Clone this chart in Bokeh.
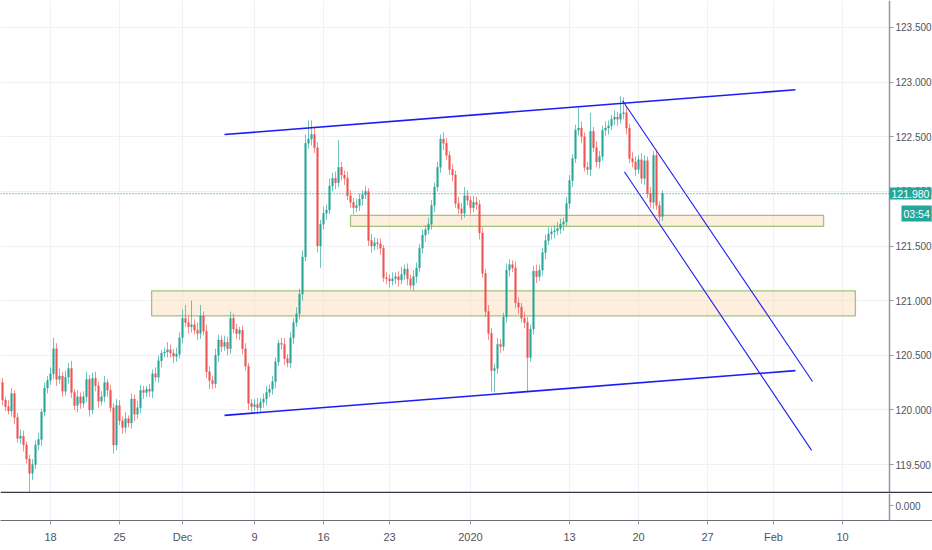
from bokeh.plotting import figure
from bokeh.layouts import column
from bokeh.models import (Range1d, FixedTicker, Span, Label, Grid, LinearAxis,
                          NumeralTickFormatter, ColumnDataSource)
from bokeh.embed import file_html
from bokeh.resources import INLINE

# ---------------- data ----------------
FIRST_OPEN = 120.25
CLOSE = [
    120.09, 120.03, 119.99, 120.15, 119.93, 119.74, 119.76, 119.68, 119.55, 119.42,
    119.50, 119.68, 119.73, 119.98, 120.20, 120.27, 120.33, 120.56, 120.28, 120.31,
    120.17, 120.30, 120.38, 120.16, 120.04, 120.12, 120.06, 120.12, 120.28, 120.00,
    120.29, 120.22, 120.08, 120.12, 120.25, 120.18, 120.02, 119.68, 120.04, 119.90,
    119.84, 119.92, 119.88, 120.10, 119.96, 120.02, 120.18, 120.16, 120.19, 120.17,
    120.33, 120.30, 120.45, 120.52, 120.53, 120.55, 120.52, 120.49, 120.51, 120.66,
    120.84, 120.80, 120.76, 120.78, 120.73, 120.70, 120.86, 120.72, 120.35, 120.27,
    120.24, 120.50, 120.64, 120.58, 120.62, 120.56, 120.84, 120.74, 120.70, 120.73,
    120.56, 120.40, 120.06, 120.03, 120.05, 120.02, 120.07, 120.10, 120.16, 120.19,
    120.26, 120.44, 120.61, 120.60, 120.47, 120.43, 120.66, 120.80, 120.88, 121.06,
    121.40, 122.44, 122.48, 122.52, 122.40, 121.50, 121.70, 121.80, 121.83, 122.05,
    122.12, 122.08, 122.22, 122.15, 122.12, 121.96, 121.90, 121.85, 121.87, 121.93,
    121.97, 122.00, 121.55, 121.50, 121.53, 121.52, 121.48, 121.21, 121.20, 121.18,
    121.20, 121.22, 121.19, 121.24, 121.29, 121.20, 121.14, 121.22, 121.30, 121.48,
    121.60, 121.65, 121.70, 121.87, 122.04, 122.22, 122.48, 122.44, 122.33, 122.20,
    122.15, 121.89, 121.84, 121.80, 121.96, 121.92, 121.85, 121.90, 121.88, 121.62,
    121.25, 120.90, 120.70, 120.36, 120.38, 120.60, 120.58, 120.85, 121.28, 121.33,
    121.30, 120.98, 120.94, 120.84, 120.80, 120.48, 120.74, 121.27, 121.22, 121.28,
    121.44, 121.55, 121.61, 121.63, 121.64, 121.66, 121.70, 121.72, 121.89, 122.10,
    122.30, 122.56, 122.58, 122.50, 122.22, 122.20, 122.55, 122.40, 122.27, 122.32,
    122.56, 122.58, 122.60, 122.66, 122.68, 122.66, 122.71, 122.72, 122.58, 122.30,
    122.27, 122.20, 122.29, 122.12, 122.28, 121.98, 121.90, 122.33, 121.87, 121.77,
    121.98,
]
# wick lengths in pips (0.01)
WICK_UP = [
    4, 3, 6, 5, 3, 4, 6, 5, 3, 4,
    5, 4, 6, 3, 5, 4, 6, 10, 5, 7,
    4, 6, 5, 7, 3, 6, 4, 5, 7, 4,
    5, 6, 4, 5, 6, 3, 5, 4, 6, 5,
    4, 6, 3, 5, 4, 6, 5, 4, 3, 5,
    4, 6, 5, 3, 4, 7, 5, 4, 6, 5,
    8, 12, 6, 22, 5, 7, 10, 4, 6, 5,
    4, 6, 5, 4, 6, 5, 6, 4, 5, 3,
    4, 5, 3, 4, 5, 6, 4, 5, 6, 4,
    5, 4, 3, 5, 6, 4, 5, 4, 6, 5,
    6, 8, 17, 13, 6, 5, 4, 6, 5, 7,
    5, 6, 25, 5, 4, 6, 5, 4, 6, 5,
    4, 5, 3, 6, 5, 4, 5, 3, 5, 4,
    6, 4, 5, 7, 4, 5, 4, 6, 5, 4,
    5, 4, 6, 5, 4, 5, 4, 6, 5, 4,
    5, 4, 6, 5, 8, 5, 4, 6, 5, 4,
    5, 4, 6, 5, 4, 6, 5, 4, 6, 5,
    4, 6, 5, 4, 6, 5, 4, 5, 6, 5,
    4, 5, 6, 4, 5, 6, 5, 4, 6, 5,
    4, 5, 19, 6, 4, 5, 17, 4, 6, 5,
    4, 6, 5, 4, 6, 5, 16, 14, 5, 4,
    6, 5, 4, 6, 5, 4, 6, 4, 5, 4,
    3,
]
WICK_DN = [
    5, 4, 3, 5, 6, 4, 5, 6, 4, 19,
    6, 4, 5, 6, 4, 5, 4, 5, 6, 4,
    5, 4, 6, 5, 4, 6, 5, 4, 5, 6,
    4, 5, 6, 4, 5, 6, 4, 8, 5, 4,
    6, 5, 4, 5, 6, 4, 5, 6, 4, 5,
    6, 4, 5, 6, 4, 5, 4, 6, 5, 4,
    5, 4, 6, 5, 4, 6, 5, 4, 6, 8,
    5, 4, 6, 5, 4, 6, 5, 4, 5, 6,
    5, 4, 6, 5, 4, 6, 4, 5, 6, 4,
    5, 6, 4, 5, 6, 4, 5, 6, 4, 5,
    6, 4, 5, 6, 5, 6, 20, 5, 6, 4,
    5, 6, 4, 5, 6, 4, 5, 6, 4, 5,
    6, 4, 5, 6, 4, 5, 6, 4, 5, 6,
    4, 5, 6, 4, 5, 6, 4, 5, 6, 4,
    5, 6, 4, 5, 6, 4, 5, 6, 4, 5,
    6, 4, 5, 6, 4, 5, 6, 4, 5, 6,
    4, 5, 6, 19, 20, 5, 6, 4, 5, 6,
    4, 5, 6, 4, 5, 31, 4, 5, 6, 4,
    5, 6, 4, 5, 6, 4, 5, 6, 4, 5,
    6, 4, 5, 6, 4, 5, 6, 4, 5, 6,
    4, 5, 6, 4, 5, 6, 4, 5, 6, 4,
    5, 6, 4, 5, 6, 4, 5, 6, 4, 5,
    4,
]
TICK_LABELS = ["18", "25", "Dec", "9", "16", "23", "2020", "13", "20", "27", "Feb", "10"]
TICK_BARS = [16, 39, 60, 84, 107, 129, 156, 189, 212, 235, 257, 280]
PRICE_TICKS = [119.5, 120.0, 120.5, 121.0, 121.5, 122.0, 122.5, 123.0, 123.5]
TIMER = "03:54"

# drawings: (bar, price) end points
UPPER_CHANNEL_X = [74, 264.3]
UPPER_CHANNEL_Y = [122.52, 122.93]
LOWER_CHANNEL_X = [74, 264.3]
LOWER_CHANNEL_Y = [119.95, 120.36]
DOWN_OUTER_X = [206.7, 270.0]
DOWN_OUTER_Y = [122.83, 120.26]
DOWN_INNER_X = [207.3, 269.7]
DOWN_INNER_Y = [122.18, 119.63]
ZONE_LEFT = [116.0, 49.7]
ZONE_RIGHT = [273.7, 284.3]
ZONE_BOTTOM = [121.68, 120.86]
ZONE_TOP = [121.78, 121.09]

# ---------------- derived ----------------
n = len(CLOSE)
idx = list(range(n))
OPEN = [FIRST_OPEN] + CLOSE[:-1]
HIGH = [max(o, c) + w / 100 for o, c, w in zip(OPEN, CLOSE, WICK_UP)]
LOW = [min(o, c) - w / 100 for o, c, w in zip(OPEN, CLOSE, WICK_DN)]
UP_COL, DN_COL = "#26a69a", "#ef5350"
COL = [UP_COL if c >= o else DN_COL for o, c in zip(OPEN, CLOSE)]
src = ColumnDataSource(dict(
    x=idx, o=OPEN, c=CLOSE, h=HIGH, l=LOW, col=COL,
    top=[max(o, c) for o, c in zip(OPEN, CLOSE)],
    bot=[min(o, c) for o, c in zip(OPEN, CLOSE)],
))

FONT = "Liberation Sans"
AX_COL = "#9598a1"
LBL_COL = "#50535e"
GRID_COL = "#f0f1f4"
SEP_COL = "#363a45"

W = 932                      # whole width is frame; price scale drawn at a fixed spot
BAR_PX = 3.0                 # pixels per bar
X0 = -2 / BAR_PX
x_range = Range1d(X0, X0 + W / BAR_PX)
AXIS_BAR = X0 + 889 / BAR_PX  # where the price scale sits (bar units)
Y_MAIN = (119.235, 123.747)


def style_axis(ax, size):
    ax.axis_line_color = AX_COL
    ax.axis_line_width = 1.5
    ax.major_tick_line_color = AX_COL
    ax.major_tick_out = 4
    ax.major_tick_in = 0
    ax.minor_tick_line_color = None
    ax.major_label_text_font = FONT
    ax.major_label_text_font_size = size
    ax.major_label_text_color = LBL_COL


p = figure(frame_width=W, frame_height=493, x_range=x_range,
           y_range=Range1d(*Y_MAIN),
           x_axis_location=None, y_axis_location=None,
           toolbar_location=None, output_backend="svg",
           min_border_left=0, min_border_right=0, min_border_top=0, min_border_bottom=0)
for g in p.grid:
    g.visible = False
p.outline_line_color = None
p.background_fill_color = "white"
p.border_fill_color = "white"
p.add_layout(Grid(dimension=1, ticker=FixedTicker(ticks=PRICE_TICKS), grid_line_color=GRID_COL))
p.add_layout(Grid(dimension=0, ticker=FixedTicker(ticks=TICK_BARS), grid_line_color=GRID_COL))

# white backdrop of the price scale region (covers grid lines)
p.quad(left=[AXIS_BAR], right=[x_range.end], bottom=[Y_MAIN[0]], top=[Y_MAIN[1]],
       fill_color="white", line_color=None)

ya = LinearAxis(fixed_location=AXIS_BAR)
ya.ticker = FixedTicker(ticks=PRICE_TICKS)
ya.formatter = NumeralTickFormatter(format="0.000")
style_axis(ya, "10px")
ya.major_label_standoff = 2
p.add_layout(ya, "right")

# zones
p.quad(left=ZONE_LEFT, right=ZONE_RIGHT, bottom=ZONE_BOTTOM, top=ZONE_TOP,
       fill_color="#fbd9b4", fill_alpha=0.45, line_color="#9fc47c", line_width=1.3)

# candles
p.segment(x0="x", y0="l", x1="x", y1="h", source=src, line_color="col",
          line_alpha=0.65, line_width=1)
p.vbar(x="x", width=0.6, top="top", bottom="bot", source=src,
       fill_color="col", line_color="col", line_width=0.3, fill_alpha=0.95)

# price line
last = CLOSE[-1]
p.add_layout(Span(location=last, dimension="width", line_color=UP_COL,
                  line_dash="1 2", line_width=1.3))

# drawings
for xs, ys, w in ((UPPER_CHANNEL_X, UPPER_CHANNEL_Y, 1.6), (LOWER_CHANNEL_X, LOWER_CHANNEL_Y, 1.6),
                  (DOWN_OUTER_X, DOWN_OUTER_Y, 1.1), (DOWN_INNER_X, DOWN_INNER_Y, 1.1)):
    p.line(xs, ys, line_color="#1c1cf5", line_width=w)

# pane separator (bottom edge of the price pane)
p.add_layout(Span(location=Y_MAIN[0], dimension="width", line_color=SEP_COL, line_width=3.5))

# price tag + timer on the price scale
p.add_layout(Label(x=AXIS_BAR, y=last, x_offset=0, y_units="data",
                   text=f"{last:.3f}", text_color="white", text_font=FONT,
                   text_font_size="10.5px", text_baseline="middle", text_align="left",
                   background_fill_color=UP_COL, padding=2))
p.add_layout(Label(x=AXIS_BAR, y=last, x_offset=12, y_offset=-20, y_units="data",
                   text=TIMER, text_color="white", text_font=FONT,
                   text_font_size="10.5px", text_baseline="middle", text_align="left",
                   background_fill_color=UP_COL, padding=2))

# lower pane
Y_LOW = (-1.2, 1.0)
q = figure(frame_width=W, frame_height=27, x_range=x_range, y_range=Range1d(*Y_LOW),
           y_axis_location=None, toolbar_location=None, output_backend="svg",
           min_border_left=0, min_border_right=0, min_border_top=0, min_border_bottom=30)
for g in q.grid:
    g.visible = False
q.outline_line_color = None
q.border_fill_color = "white"
q.add_layout(Grid(dimension=0, ticker=FixedTicker(ticks=TICK_BARS), grid_line_color=GRID_COL))
q.quad(left=[AXIS_BAR], right=[x_range.end], bottom=[Y_LOW[0]], top=[Y_LOW[1]],
       fill_color="white", line_color=None)
qy = LinearAxis(fixed_location=AXIS_BAR)
qy.ticker = FixedTicker(ticks=[0])
qy.formatter = NumeralTickFormatter(format="0.000")
style_axis(qy, "10px")
qy.major_label_standoff = 2
q.add_layout(qy, "right")
qx = q.xaxis[0]
qx.ticker = FixedTicker(ticks=TICK_BARS)
qx.major_label_overrides = {t: s for t, s in zip(TICK_BARS, TICK_LABELS)}
style_axis(qx, "11px")
qx.axis_line_color = "#6a6d78"
qx.axis_line_width = 1
qx.major_label_standoff = 6

layout = column(p, q, spacing=0)
open("out.html", "w").write(file_html(layout, INLINE))
